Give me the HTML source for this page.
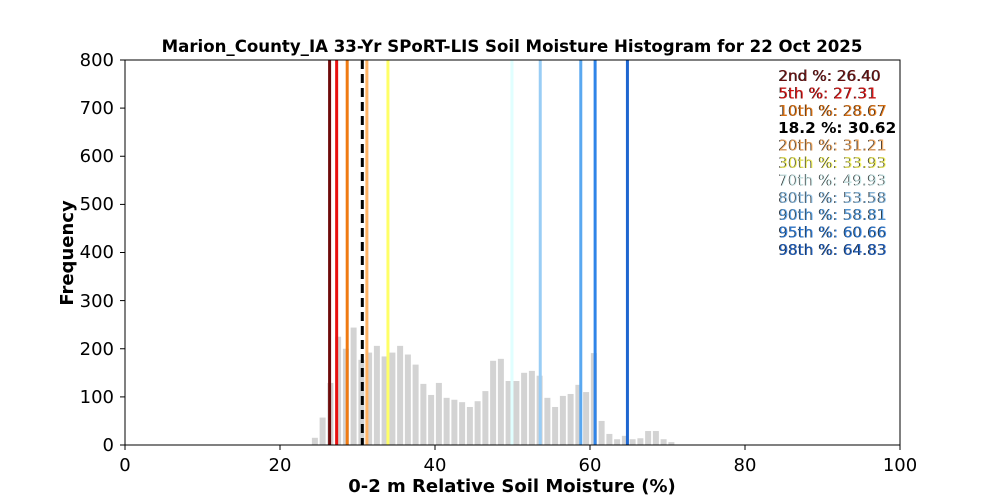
<!DOCTYPE html>
<html><head><meta charset="utf-8"><style>
body{margin:0;background:#fff;}
svg{display:block;font-family:"DejaVu Sans","Liberation Sans",sans-serif;}
</style></head><body>
<svg width="1000" height="500" viewBox="0 0 1000 500" xmlns="http://www.w3.org/2000/svg">
<rect width="1000" height="500" fill="#fff"/>
<g id="bars" fill="#d3d3d3"></g>
<g id="lines"></g>
<rect x="125" y="60" width="775" height="385" fill="none" stroke="#000" stroke-width="1"/>
<g font-size="18" fill="#000" text-anchor="middle">
<text x="125" y="471">0</text><text x="280" y="471">20</text><text x="435" y="471">40</text><text x="590" y="471">60</text><text x="745" y="471">80</text><text x="900" y="471">100</text>
</g>
<g stroke="#000"><line x1="125" y1="445" x2="125" y2="450"/><line x1="280" y1="445" x2="280" y2="450"/><line x1="435" y1="445" x2="435" y2="450"/><line x1="590" y1="445" x2="590" y2="450"/><line x1="745" y1="445" x2="745" y2="450"/><line x1="900" y1="445" x2="900" y2="450"/>
<line x1="120" y1="445" x2="125" y2="445"/><line x1="120" y1="396.9" x2="125" y2="396.9"/><line x1="120" y1="348.75" x2="125" y2="348.75"/><line x1="120" y1="300.6" x2="125" y2="300.6"/><line x1="120" y1="252.5" x2="125" y2="252.5"/><line x1="120" y1="204.4" x2="125" y2="204.4"/><line x1="120" y1="156.25" x2="125" y2="156.25"/><line x1="120" y1="108.1" x2="125" y2="108.1"/><line x1="120" y1="60" x2="125" y2="60"/></g>
<g font-size="18" fill="#000" text-anchor="end">
<text x="114" y="451">0</text><text x="114" y="403">100</text><text x="114" y="355">200</text><text x="114" y="307">300</text><text x="114" y="258">400</text><text x="114" y="210">500</text><text x="114" y="162">600</text><text x="114" y="114">700</text><text x="114" y="66">800</text>
</g>
<text x="512" y="52" font-size="16.6" font-weight="bold" text-anchor="middle">Marion_County_IA 33-Yr SPoRT-LIS Soil Moisture Histogram for 22 Oct 2025</text>
<text x="512" y="492" font-size="18" font-weight="bold" text-anchor="middle">0-2 m Relative Soil Moisture (%)</text>
<text transform="translate(73,253) rotate(-90)" font-size="18" font-weight="bold" text-anchor="middle">Frequency</text>
<g font-size="15.3" id="leg"></g>
</svg>
<script>
var ns="http://www.w3.org/2000/svg";
var h=[15,57,129,225,200,244,177,192,206,184,192,206,188,167,127,104,129,98,94,89,79,91,112,175,179,133,133,150,154,144,98,79,102,106,125,110,191,50,23,12,19,12,14,29,29,12,6];
var b=document.getElementById("bars");
h.forEach(function(v,i){var c=125+(24.5+i)*7.75;var r=document.createElementNS(ns,"rect");r.setAttribute("x",c-3);r.setAttribute("width",6);r.setAttribute("y",445-v*0.48125);r.setAttribute("height",v*0.48125);b.appendChild(r);});
var L=[["2nd",26.40,"#6e0a0a"],["5th",27.31,"#e81010"],["10th",28.67,"#ef7a12"],["18.2",30.62,"#000"],["20th",31.21,"#ffb366"],["30th",33.93,"#ffff66"],["70th",49.93,"#e0ffff"],["80th",53.58,"#99cdf5"],["90th",58.81,"#5aa8f0"],["95th",60.66,"#2f84e8"],["98th",64.83,"#1e66d0"]];
var lg=document.getElementById("lines"),le=document.getElementById("leg");
L.forEach(function(d,i){var x=125+d[1]*7.75;var l=document.createElementNS(ns,"line");l.setAttribute("x1",x);l.setAttribute("x2",x);l.setAttribute("y1",60);l.setAttribute("y2",445);l.setAttribute("stroke",d[2]);l.setAttribute("stroke-width",3);if(d[0]=="18.2")l.setAttribute("stroke-dasharray","9,5");lg.appendChild(l);
var y=81+i*17.4;
if(d[0]!="18.2"){var s=document.createElementNS(ns,"text");s.setAttribute("x",778);s.setAttribute("y",y);s.setAttribute("fill","#222");s.textContent=d[0]+" %: "+d[1].toFixed(2);le.appendChild(s);}
var t=document.createElementNS(ns,"text");t.setAttribute("x",d[0]=="18.2"?778:778.7);t.setAttribute("y",y);
t.setAttribute("fill",d[2]);if(d[0]=="18.2")t.setAttribute("font-weight","bold");else t.setAttribute("fill-opacity","0.85");
t.textContent=d[0]+" %: "+d[1].toFixed(2);le.appendChild(t);});
</script>
</body></html>
